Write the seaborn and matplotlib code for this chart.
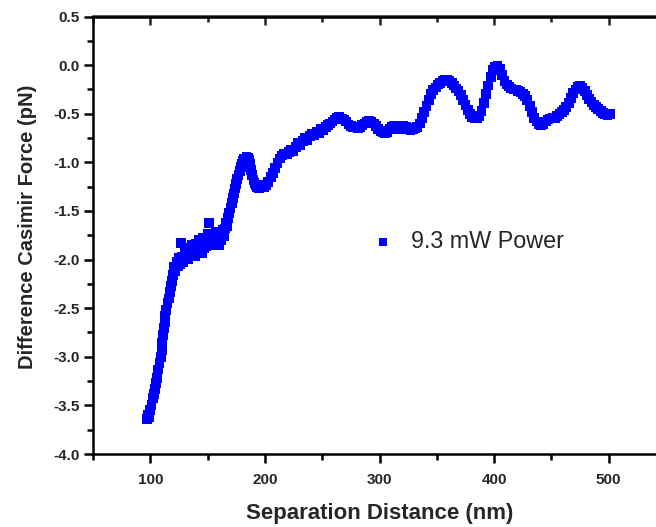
import matplotlib
matplotlib.use("Agg")
import matplotlib.pyplot as plt
import seaborn as sns
import pandas as pd
from matplotlib.ticker import MultipleLocator, FormatStrFormatter

# ---- data ----
separation_nm = [
    97, 98, 99, 100, 101, 102, 103, 104, 105, 106, 107, 108, 109, 110, 110.5,
    111, 112, 112.5, 113, 114, 115, 116, 117, 118, 119, 120, 121, 122, 123,
    124, 125, 126, 127, 128, 129, 130, 131, 132, 133, 134, 135, 136, 137, 138,
    139, 140, 141, 142, 143, 144, 145, 146, 147, 148, 149, 150, 151, 152, 153,
    154, 155, 156, 157, 158, 159, 160, 161, 162, 163, 164, 165, 166, 167, 168,
    169, 170, 171, 172, 173, 174, 175, 176, 177, 178, 179, 180, 181, 182, 183,
    184, 185, 186, 187, 188, 189, 190, 191, 192, 193, 195, 197, 199, 201, 203,
    205, 207, 209, 211, 213, 215, 217, 219, 221, 223, 225, 227, 229, 231, 233,
    235, 237, 239, 241, 243, 245, 247, 249, 251, 253, 255, 257, 259, 261, 263,
    265, 267, 269, 271, 273, 275, 277, 279, 281, 283, 285, 287, 289, 291, 293,
    295, 297, 299, 301, 303, 305, 307, 309, 311, 313, 315, 317, 319, 321, 323,
    325, 327, 329, 331, 333, 335, 337, 339, 341, 343, 345, 347, 349, 351, 353,
    355, 357, 359, 361, 363, 365, 367, 369, 371, 373, 375, 377, 379, 381, 383,
    385, 387, 389, 391, 393, 395, 397, 399, 401, 403, 405, 407, 409, 411, 413,
    415, 417, 419, 421, 423, 425, 427, 429, 431, 433, 435, 437, 439, 441, 443,
    445, 447, 449, 451, 453, 455, 457, 459, 461, 463, 465, 467, 469, 471, 473,
    475, 477, 479, 481, 483, 485, 487, 489, 491, 493, 495, 497, 499, 501,
]
force_pN = [
    -3.64, -3.60, -3.62, -3.55, -3.50, -3.42, -3.38, -3.33, -3.27, -3.22, -3.13,
    -3.06, -3.00, -2.93, -2.86, -2.78, -2.70, -2.64, -2.58, -2.52, -2.45, -2.40,
    -2.33, -2.27, -2.22, -2.16, -2.08, -2.12, -2.02, -2.07, -1.98, -2.05, -1.83,
    -1.97, -2.03, -1.93, -1.99, -1.90, -2.00, -1.88, -1.95, -1.85, -1.93, -1.87,
    -1.96, -1.84, -1.92, -1.80, -1.90, -1.83, -1.93, -1.78, -1.88, -1.81, -1.86,
    -1.74, -1.62, -1.85, -1.78, -1.83, -1.75, -1.80, -1.72, -1.82, -1.76, -1.85,
    -1.73, -1.80, -1.70, -1.76, -1.68, -1.62, -1.66, -1.57, -1.52, -1.47, -1.42,
    -1.37, -1.32, -1.27, -1.22, -1.17, -1.13, -1.09, -1.05, -1.02, -0.99, -0.96,
    -0.98, -0.94, -0.95, -0.97, -1.02, -1.08, -1.13, -1.18, -1.21, -1.23, -1.25,
    -1.26, -1.25, -1.25, -1.23, -1.20, -1.15, -1.11, -1.06, -1.01, -0.96, -0.93,
    -0.91, -0.92, -0.89, -0.87, -0.88, -0.84, -0.80, -0.82, -0.78, -0.75, -0.77,
    -0.73, -0.71, -0.72, -0.69, -0.70, -0.66, -0.67, -0.64, -0.62, -0.60, -0.58,
    -0.56, -0.54, -0.53, -0.55, -0.56, -0.58, -0.61, -0.63, -0.64, -0.64, -0.65,
    -0.64, -0.62, -0.60, -0.58, -0.57, -0.58, -0.60, -0.63, -0.66, -0.68, -0.69,
    -0.70, -0.69, -0.66, -0.64, -0.63, -0.64, -0.66, -0.64, -0.63, -0.64, -0.66,
    -0.67, -0.66, -0.65, -0.64, -0.60, -0.54, -0.48, -0.42, -0.36, -0.30, -0.26,
    -0.23, -0.20, -0.18, -0.16, -0.15, -0.15, -0.16, -0.18, -0.21, -0.24, -0.27,
    -0.31, -0.36, -0.41, -0.46, -0.50, -0.53, -0.54, -0.54, -0.52, -0.47, -0.39,
    -0.30, -0.21, -0.12, -0.05, -0.02, -0.01, -0.04, -0.10, -0.16, -0.20, -0.22,
    -0.24, -0.25, -0.25, -0.27, -0.28, -0.30, -0.32, -0.36, -0.42, -0.48, -0.54,
    -0.58, -0.61, -0.62, -0.61, -0.58, -0.56, -0.55, -0.54, -0.54, -0.52, -0.50,
    -0.48, -0.46, -0.43, -0.39, -0.34, -0.29, -0.25, -0.22, -0.21, -0.23, -0.27,
    -0.31, -0.35, -0.38, -0.41, -0.43, -0.45, -0.47, -0.49, -0.50, -0.51, -0.50,
]
series_label = "9.3 mW Power"
x_title = "Separation Distance (nm)"
y_title = "Difference Casimir Force (pN)"
x_major_ticks = [100, 200, 300, 400, 500]

df = pd.DataFrame({"x": separation_nm, "y": force_pN})

sns.set_style("ticks")
plt.rcParams["font.family"] = ["Liberation Sans", "DejaVu Sans"]
plt.rcParams["axes.unicode_minus"] = False

W, H = 656, 527
fig = plt.figure(figsize=(W / 100, H / 100), dpi=100)
ax = fig.add_axes([93 / W, 1 - 454 / H, 573 / W, 437.5 / H])

sns.scatterplot(data=df, x="x", y="y", marker="s", s=50, color="#0000ff",
                linewidth=0, edgecolor="none", label=series_label, ax=ax)

ax.set_xlim(50, 550)
ax.set_ylim(-4.0, 0.5)
ax.set_xticks(x_major_ticks)
ax.xaxis.set_minor_locator(MultipleLocator(50))
ax.yaxis.set_major_locator(MultipleLocator(0.5))
ax.yaxis.set_minor_locator(MultipleLocator(0.25))
ax.yaxis.set_major_formatter(FormatStrFormatter("%.1f"))

for sp in ax.spines.values():
    sp.set_linewidth(1.8)
    sp.set_color("black")

ax.tick_params(axis="both", which="major", direction="out", length=6.5, width=1.8,
               labelsize=11, color="black", pad=3)
ax.tick_params(axis="both", which="minor", direction="out", length=4, width=1.8,
               color="black")
ax.tick_params(axis="x", which="major", pad=7)
for lab in ax.get_xticklabels() + ax.get_yticklabels():
    lab.set_fontweight("bold")

sec = ax.secondary_xaxis("top")
sec.set_xticks(x_major_ticks)
sec.xaxis.set_minor_locator(MultipleLocator(50))
sec.tick_params(axis="x", which="major", direction="in", length=6.5, width=1.8,
                labeltop=False)
sec.tick_params(axis="x", which="minor", direction="in", length=4, width=1.8)
sec.spines["top"].set_linewidth(1.8)

ax.set_xlabel(x_title, fontsize=16, fontweight="bold", labelpad=12)
ax.set_ylabel(y_title, fontsize=14.5, fontweight="bold")
ax.yaxis.set_label_coords(-0.098, (454 - 227) / 437.5)

leg = ax.legend(loc="center left", bbox_to_anchor=((371 - 93) / 573, (454 - 242) / 437.5),
                frameon=False, fontsize=16.8, handlelength=1.0, handletextpad=0.7,
                borderpad=0, borderaxespad=0, markerscale=0.8)

fig.savefig("out.png", dpi=100, facecolor="white")
